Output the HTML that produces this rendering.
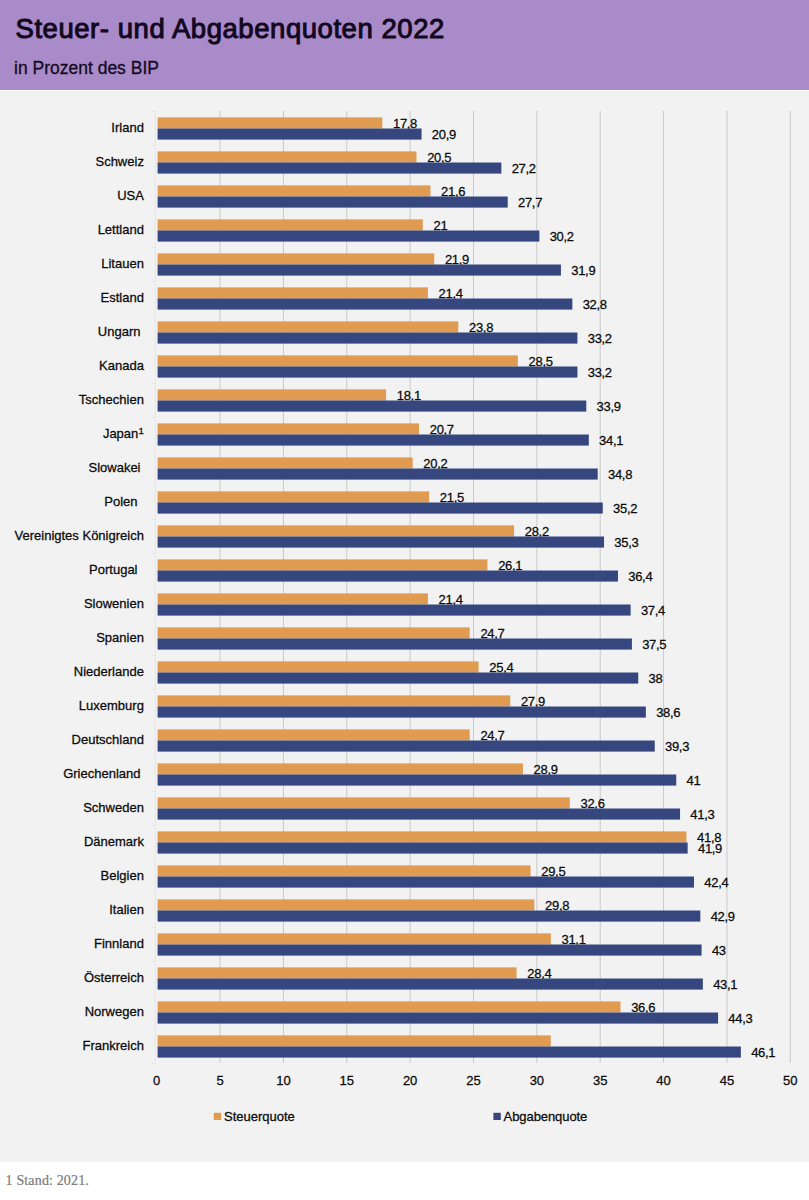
<!DOCTYPE html>
<html><head><meta charset="utf-8"><title>Steuer- und Abgabenquoten 2022</title>
<style>
html,body{margin:0;padding:0;}
body{width:809px;height:1200px;background:#fff;position:relative;overflow:hidden;font-family:"Liberation Sans",sans-serif;color:#111;}
.hd{position:absolute;left:0;top:0;width:809px;height:90px;background:#a98bc9;}
.t1{position:absolute;left:15.5px;top:12.5px;font-size:27.5px;font-weight:normal;letter-spacing:0.55px;-webkit-text-stroke:1px #120820;color:#120820;white-space:nowrap;line-height:32px;}
.t2{position:absolute;left:14px;top:58px;font-size:17.5px;-webkit-text-stroke:0.3px #150a22;color:#150a22;white-space:nowrap;line-height:20px;}
.ch{position:absolute;left:0;top:91px;width:809px;height:1070.5px;background:#f2f2f2;}
svg{position:absolute;left:0;top:0;}
svg text{font-family:"Liberation Sans",sans-serif;font-size:13px;fill:#0c0c0c;stroke:#0c0c0c;stroke-width:0.28px;}
.ft{position:absolute;left:5.6px;top:1173px;font-family:"Liberation Serif",serif;font-size:14px;line-height:16px;letter-spacing:0.15px;-webkit-text-stroke:0.2px #7a7a7a;color:#7a7a7a;white-space:nowrap;}
</style></head><body>
<div class="hd"></div>
<div class="t1">Steuer- und Abgabenquoten 2022</div>
<div class="t2">in Prozent des BIP</div>
<div class="ch"></div>
<svg width="809" height="1200" viewBox="0 0 809 1200">

<g stroke="#c9c9c9" stroke-width="1">
<line x1="220.06" y1="111" x2="220.06" y2="1063"/>
<line x1="283.42" y1="111" x2="283.42" y2="1063"/>
<line x1="346.78" y1="111" x2="346.78" y2="1063"/>
<line x1="410.14" y1="111" x2="410.14" y2="1063"/>
<line x1="473.50" y1="111" x2="473.50" y2="1063"/>
<line x1="536.86" y1="111" x2="536.86" y2="1063"/>
<line x1="600.22" y1="111" x2="600.22" y2="1063"/>
<line x1="663.58" y1="111" x2="663.58" y2="1063"/>
<line x1="726.94" y1="111" x2="726.94" y2="1063"/>
<line x1="790.30" y1="111" x2="790.30" y2="1063"/>
</g>
<g stroke="#e3e6ec" stroke-width="1">
<line x1="155.30" y1="111" x2="155.30" y2="1063"/>
<line x1="151.80" y1="111.40" x2="155.30" y2="111.40"/>
<line x1="151.80" y1="145.40" x2="155.30" y2="145.40"/>
<line x1="151.80" y1="179.40" x2="155.30" y2="179.40"/>
<line x1="151.80" y1="213.40" x2="155.30" y2="213.40"/>
<line x1="151.80" y1="247.40" x2="155.30" y2="247.40"/>
<line x1="151.80" y1="281.40" x2="155.30" y2="281.40"/>
<line x1="151.80" y1="315.40" x2="155.30" y2="315.40"/>
<line x1="151.80" y1="349.40" x2="155.30" y2="349.40"/>
<line x1="151.80" y1="383.40" x2="155.30" y2="383.40"/>
<line x1="151.80" y1="417.40" x2="155.30" y2="417.40"/>
<line x1="151.80" y1="451.40" x2="155.30" y2="451.40"/>
<line x1="151.80" y1="485.40" x2="155.30" y2="485.40"/>
<line x1="151.80" y1="519.40" x2="155.30" y2="519.40"/>
<line x1="151.80" y1="553.40" x2="155.30" y2="553.40"/>
<line x1="151.80" y1="587.40" x2="155.30" y2="587.40"/>
<line x1="151.80" y1="621.40" x2="155.30" y2="621.40"/>
<line x1="151.80" y1="655.40" x2="155.30" y2="655.40"/>
<line x1="151.80" y1="689.40" x2="155.30" y2="689.40"/>
<line x1="151.80" y1="723.40" x2="155.30" y2="723.40"/>
<line x1="151.80" y1="757.40" x2="155.30" y2="757.40"/>
<line x1="151.80" y1="791.40" x2="155.30" y2="791.40"/>
<line x1="151.80" y1="825.40" x2="155.30" y2="825.40"/>
<line x1="151.80" y1="859.40" x2="155.30" y2="859.40"/>
<line x1="151.80" y1="893.40" x2="155.30" y2="893.40"/>
<line x1="151.80" y1="927.40" x2="155.30" y2="927.40"/>
<line x1="151.80" y1="961.40" x2="155.30" y2="961.40"/>
<line x1="151.80" y1="995.40" x2="155.30" y2="995.40"/>
<line x1="151.80" y1="1029.40" x2="155.30" y2="1029.40"/>
<line x1="151.80" y1="1063.40" x2="155.30" y2="1063.40"/>
</g>
<g text-anchor="end">
<text x="143.90" y="132.20">Irland</text>
<text x="143.90" y="166.20">Schweiz</text>
<text x="143.90" y="200.20">USA</text>
<text x="143.90" y="234.20">Lettland</text>
<text x="143.90" y="268.20">Litauen</text>
<text x="143.90" y="302.20">Estland</text>
<text x="140.50" y="336.20">Ungarn</text>
<text x="143.90" y="370.20">Kanada</text>
<text x="143.90" y="404.20">Tschechien</text>
<text x="143.90" y="438.20">Japan<tspan font-size="9.5" dy="-4.2" dx="0.3">1</tspan></text>
<text x="140.50" y="472.20">Slowakei</text>
<text x="137.50" y="506.20">Polen</text>
<text x="143.90" y="540.20">Vereinigtes Königreich</text>
<text x="137.50" y="574.20">Portugal</text>
<text x="143.90" y="608.20">Slowenien</text>
<text x="143.90" y="642.20">Spanien</text>
<text x="143.90" y="676.20">Niederlande</text>
<text x="143.90" y="710.20">Luxemburg</text>
<text x="143.90" y="744.20">Deutschland</text>
<text x="140.50" y="778.20">Griechenland</text>
<text x="143.90" y="812.20">Schweden</text>
<text x="143.90" y="846.20">Dänemark</text>
<text x="143.90" y="880.20">Belgien</text>
<text x="143.90" y="914.20">Italien</text>
<text x="143.90" y="948.20">Finnland</text>
<text x="143.90" y="982.20">Österreich</text>
<text x="143.90" y="1016.20">Norwegen</text>
<text x="143.90" y="1050.20">Frankreich</text>
</g>
<rect x="157.60" y="117.40" width="224.66" height="11.10" fill="#e09b50"/>
<rect x="157.60" y="151.40" width="258.88" height="11.10" fill="#e09b50"/>
<rect x="157.60" y="185.40" width="272.82" height="11.10" fill="#e09b50"/>
<rect x="157.60" y="219.40" width="265.21" height="11.10" fill="#e09b50"/>
<rect x="157.60" y="253.40" width="276.62" height="11.10" fill="#e09b50"/>
<rect x="157.60" y="287.40" width="270.28" height="11.10" fill="#e09b50"/>
<rect x="157.60" y="321.40" width="300.69" height="11.10" fill="#e09b50"/>
<rect x="157.60" y="355.40" width="360.25" height="11.10" fill="#e09b50"/>
<rect x="157.60" y="389.40" width="228.46" height="11.10" fill="#e09b50"/>
<rect x="157.60" y="423.40" width="261.41" height="11.10" fill="#e09b50"/>
<rect x="157.60" y="457.40" width="255.07" height="11.10" fill="#e09b50"/>
<rect x="157.60" y="491.40" width="271.55" height="11.10" fill="#e09b50"/>
<rect x="157.60" y="525.40" width="356.45" height="11.10" fill="#e09b50"/>
<rect x="157.60" y="559.40" width="329.84" height="11.10" fill="#e09b50"/>
<rect x="157.60" y="593.40" width="270.28" height="11.10" fill="#e09b50"/>
<rect x="157.60" y="627.40" width="312.10" height="11.10" fill="#e09b50"/>
<rect x="157.60" y="661.40" width="320.97" height="11.10" fill="#e09b50"/>
<rect x="157.60" y="695.40" width="352.65" height="11.10" fill="#e09b50"/>
<rect x="157.60" y="729.40" width="312.10" height="11.10" fill="#e09b50"/>
<rect x="157.60" y="763.40" width="365.32" height="11.10" fill="#e09b50"/>
<rect x="157.60" y="797.40" width="412.21" height="11.10" fill="#e09b50"/>
<rect x="157.60" y="831.40" width="528.79" height="11.10" fill="#e09b50"/>
<rect x="157.60" y="865.40" width="372.92" height="11.10" fill="#e09b50"/>
<rect x="157.60" y="899.40" width="376.73" height="11.10" fill="#e09b50"/>
<rect x="157.60" y="933.40" width="393.20" height="11.10" fill="#e09b50"/>
<rect x="157.60" y="967.40" width="358.98" height="11.10" fill="#e09b50"/>
<rect x="157.60" y="1001.40" width="462.90" height="11.10" fill="#e09b50"/>
<rect x="157.60" y="1035.40" width="393.20" height="11.10" fill="#e09b50"/>
<g letter-spacing="-0.3">
<text x="392.96" y="127.50">17,8</text>
<text x="427.18" y="161.50">20,5</text>
<text x="441.12" y="195.50">21,6</text>
<text x="433.51" y="229.50">21</text>
<text x="444.92" y="263.50">21,9</text>
<text x="438.58" y="297.50">21,4</text>
<text x="468.99" y="331.50">23,8</text>
<text x="528.55" y="365.50">28,5</text>
<text x="396.76" y="399.50">18,1</text>
<text x="429.71" y="433.50">20,7</text>
<text x="423.37" y="467.50">20,2</text>
<text x="439.85" y="501.50">21,5</text>
<text x="524.75" y="535.50">28,2</text>
<text x="498.14" y="569.50">26,1</text>
<text x="438.58" y="603.50">21,4</text>
<text x="480.40" y="637.50">24,7</text>
<text x="489.27" y="671.50">25,4</text>
<text x="520.95" y="705.50">27,9</text>
<text x="480.40" y="739.50">24,7</text>
<text x="533.62" y="773.50">28,9</text>
<text x="580.51" y="807.50">32,6</text>
<text x="697.09" y="841.50">41,8</text>
<text x="541.22" y="875.50">29,5</text>
<text x="545.03" y="909.50">29,8</text>
<text x="561.50" y="943.50">31,1</text>
<text x="527.28" y="977.50">28,4</text>
<text x="631.20" y="1011.50">36,6</text>
</g>
<rect x="157.60" y="128.50" width="263.94" height="11.10" fill="#35477e"/>
<rect x="157.60" y="162.50" width="343.78" height="11.10" fill="#35477e"/>
<rect x="157.60" y="196.50" width="350.11" height="11.10" fill="#35477e"/>
<rect x="157.60" y="230.50" width="381.79" height="11.10" fill="#35477e"/>
<rect x="157.60" y="264.50" width="403.34" height="11.10" fill="#35477e"/>
<rect x="157.60" y="298.50" width="414.74" height="11.10" fill="#35477e"/>
<rect x="157.60" y="332.50" width="419.81" height="11.10" fill="#35477e"/>
<rect x="157.60" y="366.50" width="419.81" height="11.10" fill="#35477e"/>
<rect x="157.60" y="400.50" width="428.68" height="11.10" fill="#35477e"/>
<rect x="157.60" y="434.50" width="431.22" height="11.10" fill="#35477e"/>
<rect x="157.60" y="468.50" width="440.09" height="11.10" fill="#35477e"/>
<rect x="157.60" y="502.50" width="445.15" height="11.10" fill="#35477e"/>
<rect x="157.60" y="536.50" width="446.42" height="11.10" fill="#35477e"/>
<rect x="157.60" y="570.50" width="460.36" height="11.10" fill="#35477e"/>
<rect x="157.60" y="604.50" width="473.03" height="11.10" fill="#35477e"/>
<rect x="157.60" y="638.50" width="474.30" height="11.10" fill="#35477e"/>
<rect x="157.60" y="672.50" width="480.64" height="11.10" fill="#35477e"/>
<rect x="157.60" y="706.50" width="488.24" height="11.10" fill="#35477e"/>
<rect x="157.60" y="740.50" width="497.11" height="11.10" fill="#35477e"/>
<rect x="157.60" y="774.50" width="518.65" height="11.10" fill="#35477e"/>
<rect x="157.60" y="808.50" width="522.45" height="11.10" fill="#35477e"/>
<rect x="157.60" y="842.50" width="530.06" height="11.10" fill="#35477e"/>
<rect x="157.60" y="876.50" width="536.39" height="11.10" fill="#35477e"/>
<rect x="157.60" y="910.50" width="542.73" height="11.10" fill="#35477e"/>
<rect x="157.60" y="944.50" width="544.00" height="11.10" fill="#35477e"/>
<rect x="157.60" y="978.50" width="545.26" height="11.10" fill="#35477e"/>
<rect x="157.60" y="1012.50" width="560.47" height="11.10" fill="#35477e"/>
<rect x="157.60" y="1046.50" width="583.28" height="11.10" fill="#35477e"/>
<g letter-spacing="-0.3">
<text x="431.84" y="139.10">20,9</text>
<text x="511.68" y="173.10">27,2</text>
<text x="518.01" y="207.10">27,7</text>
<text x="549.69" y="241.10">30,2</text>
<text x="571.24" y="275.10">31,9</text>
<text x="582.64" y="309.10">32,8</text>
<text x="587.71" y="343.10">33,2</text>
<text x="587.71" y="377.10">33,2</text>
<text x="596.58" y="411.10">33,9</text>
<text x="599.12" y="445.10">34,1</text>
<text x="607.99" y="479.10">34,8</text>
<text x="613.05" y="513.10">35,2</text>
<text x="614.32" y="547.10">35,3</text>
<text x="628.26" y="581.10">36,4</text>
<text x="640.93" y="615.10">37,4</text>
<text x="642.20" y="649.10">37,5</text>
<text x="648.54" y="683.10">38</text>
<text x="656.14" y="717.10">38,6</text>
<text x="665.01" y="751.10">39,3</text>
<text x="686.55" y="785.10">41</text>
<text x="690.35" y="819.10">41,3</text>
<text x="697.96" y="853.10">41,9</text>
<text x="704.29" y="887.10">42,4</text>
<text x="710.63" y="921.10">42,9</text>
<text x="711.90" y="955.10">43</text>
<text x="713.16" y="989.10">43,1</text>
<text x="728.37" y="1023.10">44,3</text>
<text x="751.18" y="1057.10">46,1</text>
</g>
<g text-anchor="middle">
<text x="156.70" y="1085.2">0</text>
<text x="220.06" y="1085.2">5</text>
<text x="283.42" y="1085.2">10</text>
<text x="346.78" y="1085.2">15</text>
<text x="410.14" y="1085.2">20</text>
<text x="473.50" y="1085.2">25</text>
<text x="536.86" y="1085.2">30</text>
<text x="600.22" y="1085.2">35</text>
<text x="663.58" y="1085.2">40</text>
<text x="726.94" y="1085.2">45</text>
<text x="790.30" y="1085.2">50</text>
</g>
<rect x="213.8" y="1112.8" width="7.4" height="7.2" fill="#e09b50"/>
<text x="224" y="1120.5">Steuerquote</text>
<rect x="493.4" y="1112.8" width="7.4" height="7.2" fill="#35477e"/>
<text x="503.6" y="1120.5" letter-spacing="-0.08">Abgabenquote</text>
</svg>
<div class="ft">1 Stand: 2021.</div>
</body></html>
